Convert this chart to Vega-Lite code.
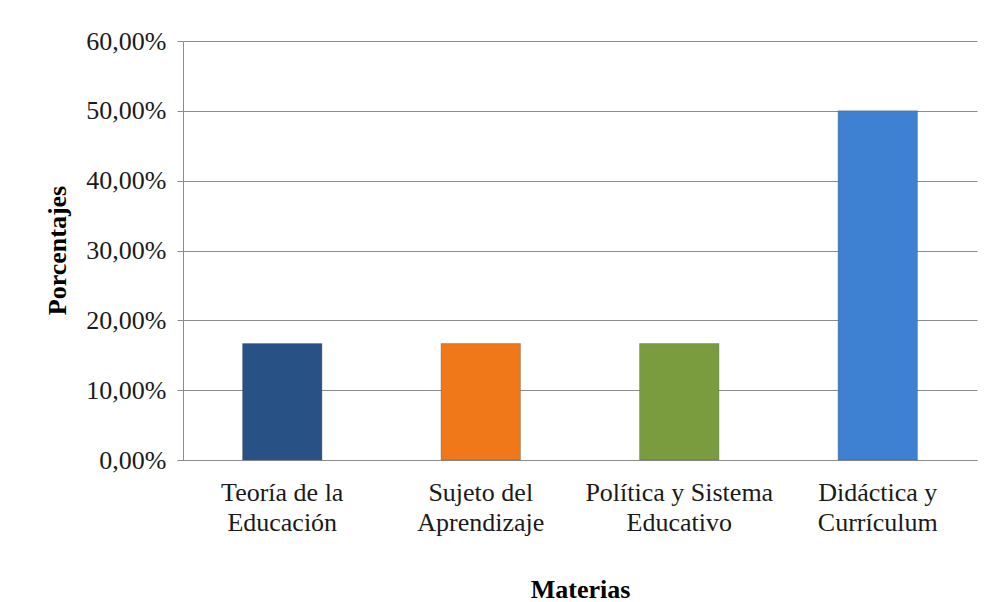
{
  "$schema": "https://vega.github.io/schema/vega-lite/v6.json",
  "width": 794,
  "height": 419,
  "autosize": {"type": "none"},
  "padding": {"left": 183, "top": 41, "right": 17, "bottom": 142},
  "background": "white",
  "data": {
    "values": [
      {"materia": "Teoría de la|Educación", "pct": 0.1667},
      {"materia": "Sujeto del|Aprendizaje", "pct": 0.1667},
      {"materia": "Política y Sistema|Educativo", "pct": 0.1667},
      {"materia": "Didáctica y|Currículum", "pct": 0.50}
    ]
  },
  "mark": {"type": "bar", "stroke": "#5a5a5a", "strokeOpacity": 0.35, "strokeWidth": 1},
  "encoding": {
    "x": {
      "field": "materia",
      "type": "nominal",
      "sort": null,
      "scale": {"paddingInner": 0.6, "paddingOuter": 0.3},
      "axis": {
        "title": "Materias",
        "labelAngle": 0,
        "labelExpr": "split(datum.value, '|')",
        "labelFont": "Liberation Serif",
        "labelFontSize": 26,
        "labelColor": "#1a1a1a",
        "labelLineHeight": 30,
        "labelBaseline": "top",
        "labelPadding": 19,
        "labelLimit": 0,
        "labelOverlap": false,
        "ticks": false,
        "tickSize": 0,
        "domainColor": "#8c8c8c",
        "titleFont": "Liberation Serif",
        "titleFontSize": 26,
        "titleFontWeight": "bold",
        "titleColor": "#000000",
        "titleBaseline": "alphabetic",
        "titleY": 137
      }
    },
    "y": {
      "field": "pct",
      "type": "quantitative",
      "scale": {"domain": [0, 0.6], "nice": false},
      "axis": {
        "title": "Porcentajes",
        "values": [0, 0.1, 0.2, 0.3, 0.4, 0.5, 0.6],
        "labelExpr": "replace(format(datum.value * 100, '.2f'), '.', ',') + '%'",
        "labelFont": "Liberation Serif",
        "labelFontSize": 26,
        "labelColor": "#1a1a1a",
        "labelPadding": 11,
        "tickSize": 6,
        "tickColor": "#8c8c8c",
        "domainColor": "#8c8c8c",
        "gridColor": "#8c8c8c",
        "grid": true,
        "titleFont": "Liberation Serif",
        "titleFontSize": 26,
        "titleFontWeight": "bold",
        "titleColor": "#000000",
        "titleAngle": -90,
        "titleBaseline": "alphabetic",
        "titleAlign": "center",
        "titleX": -118,
        "titleY": 209
      }
    },
    "color": {
      "field": "materia",
      "type": "nominal",
      "sort": null,
      "scale": {
        "domain": ["Teoría de la|Educación", "Sujeto del|Aprendizaje", "Política y Sistema|Educativo", "Didáctica y|Currículum"],
        "range": ["#285286", "#F07818", "#7B9C3E", "#3E80D2"]
      },
      "legend": null
    }
  },
  "config": {
    "view": {"stroke": null}
  }
}
